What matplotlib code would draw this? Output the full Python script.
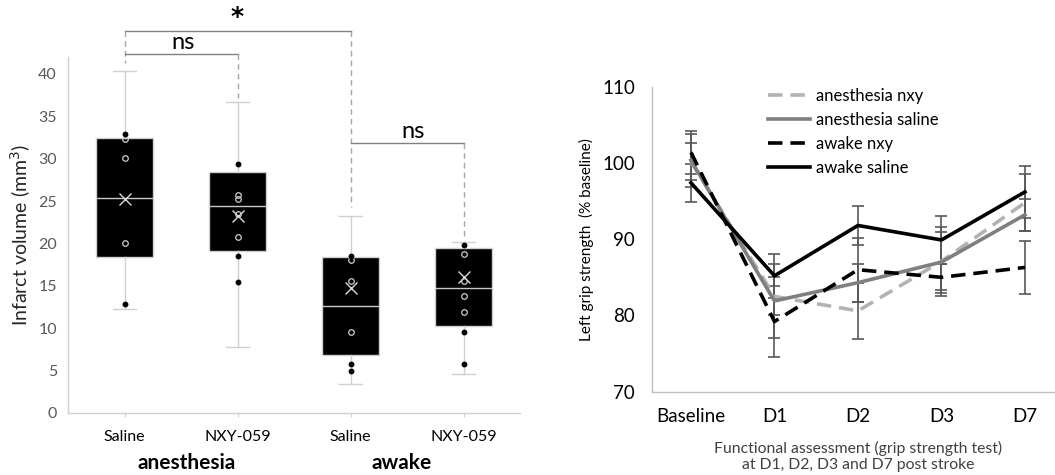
import matplotlib
matplotlib.use("Agg")
import matplotlib.pyplot as plt
import matplotlib.transforms as mtransforms

plt.rcParams["font.family"] = ["Lato", "DejaVu Sans"]

# ---------------- Left chart data ----------------
box_labels = ["Saline", "NXY-059", "Saline", "NXY-059"]
group_labels = ["anesthesia", "awake"]
box_q1 = [18.4, 19.1, 6.8, 10.3]
box_med = [25.4, 24.4, 12.6, 14.75]
box_q3 = [32.4, 28.4, 18.45, 19.5]
box_whislo = [12.3, 7.8, 3.4, 4.6]
box_whishi = [40.3, 36.7, 23.2, 20.2]
box_mean = [25.2, 23.2, 14.7, 16.0]
pts_open = [[32.3, 30.1, 20.1],
            [25.7, 25.2, 23.5, 20.8],
            [18.1, 15.6, 9.5],
            [18.7, 15.6, 13.8, 11.9]]
pts_filled = [[32.9, 12.9],
              [29.4, 18.5, 15.4],
              [18.5, 5.8, 4.9],
              [19.8, 9.6, 5.8]]
left_yticks = [0, 5, 10, 15, 20, 25, 30, 35, 40]

# ---------------- Right chart data ----------------
days = ["Baseline", "D1", "D2", "D3", "D7"]
series_names = ["anesthesia nxy", "anesthesia saline", "awake nxy", "awake saline"]
anes_nxy = [100.15, 82.5, 80.6, 87.1, 94.8]
anes_nxy_err = [2.45, 2.5, 3.7, 4.5, 3.7]
anes_saline = [100.35, 81.9, 84.3, 87.0, 93.2]
anes_saline_err = [3.45, 4.9, 2.5, 4.0, 2.1]
awake_nxy = [101.4, 79.2, 86.0, 85.0, 86.3]
awake_nxy_err = [2.8, 4.6, 4.2, 1.7, 3.5]
awake_saline = [97.4, 85.2, 91.8, 89.9, 96.2]
awake_saline_err = [2.5, 2.9, 2.5, 3.1, 3.4]
right_yticks = [70, 80, 90, 100, 110]

fig = plt.figure(figsize=(10.55, 4.75), dpi=100)

# ================= LEFT =================
axL = fig.add_axes([68/1055, 1-413/475, (520-68)/1055, (413-57)/475])
pos = list(range(len(box_labels)))
stats = []
for i in pos:
    stats.append(dict(med=box_med[i], q1=box_q1[i], q3=box_q3[i],
                      whislo=box_whislo[i], whishi=box_whishi[i],
                      mean=box_mean[i], fliers=[]))
lc = "#d0d0d0"
axL.bxp(stats, positions=pos, widths=0.5, patch_artist=True, showmeans=True,
        capwidths=0.2,
        boxprops=dict(facecolor="black", edgecolor=lc, linewidth=1.0),
        medianprops=dict(color="#c8c8c8", linewidth=1.0),
        whiskerprops=dict(color=lc, linewidth=1.0),
        capprops=dict(color=lc, linewidth=1.0),
        meanprops=dict(marker="x", markeredgecolor="#d9d9d9", markersize=8,
                       markeredgewidth=1.0, linestyle="none"))
for i in pos:
    axL.plot([i]*len(pts_open[i]), pts_open[i], linestyle="none", marker="o",
             markersize=4, markerfacecolor="none", markeredgecolor="#cfcfcf",
             markeredgewidth=0.9, zorder=5)
    axL.plot([i]*len(pts_filled[i]), pts_filled[i], linestyle="none", marker="o",
             markersize=3.2, markerfacecolor="black", markeredgecolor="black", zorder=5)

axL.set_xlim(-0.5, 3.5)
axL.set_ylim(0, 42)
axL.set_yticks(left_yticks)
axL.set_yticklabels([str(t) for t in left_yticks], color="#595959", fontsize=11.5)
axL.set_xticks(pos)
axL.set_xticklabels(box_labels, fontsize=11.5, color="black")
axL.tick_params(axis="y", length=0, pad=8)
axL.tick_params(axis="x", length=3, color=lc, pad=9)
for s in ["top", "right"]:
    axL.spines[s].set_visible(False)
for s in ["left", "bottom"]:
    axL.spines[s].set_color(lc)
    axL.spines[s].set_linewidth(1.0)
axL.set_ylabel("Infarct volume (mm$^3$)", fontsize=14, color="#262626", labelpad=4)

# group labels
for gi, g in enumerate(group_labels):
    axL.text(0.5 + 2*gi + (0.05 if gi == 0 else -0.05), -0.14, g,
             transform=mtransforms.blended_transform_factory(axL.transData, axL.transAxes),
             ha="center", va="center", fontsize=15, fontweight="bold")

# significance brackets
bc = "#808080"
dc = "#a6a6a6"
kw = dict(clip_on=False, zorder=6)
axL.plot([0, 2], [45.1, 45.1], color=bc, lw=1.0, **kw)
axL.plot([0, 0], [45.1, 41.3], color=dc, lw=1.0, ls=(0, (4, 3)), **kw)
axL.plot([2, 2], [45.1, 24.3], color=dc, lw=1.0, ls=(0, (4, 3)), **kw)
axL.text(1, 45.3, "*", ha="center", va="bottom", fontsize=18, fontweight="bold",
         family="DejaVu Sans", clip_on=False)
axL.plot([0, 1], [42.3, 42.3], color=bc, lw=1.0, **kw)
axL.plot([1, 1], [42.3, 37.2], color=dc, lw=1.0, ls=(0, (4, 3)), **kw)
axL.text(0.52, 42.5, "ns", ha="center", va="bottom", fontsize=17, clip_on=False)
axL.plot([2, 3], [31.8, 31.8], color=bc, lw=1.0, **kw)
axL.plot([3, 3], [31.8, 20.6], color=dc, lw=1.0, ls=(0, (4, 3)), **kw)
axL.text(2.55, 32.0, "ns", ha="center", va="bottom", fontsize=17, clip_on=False)

# ================= RIGHT =================
axR = fig.add_axes([651.7/1055, 1-391.7/475, 1-651.7/1055, (391.7-86.7)/475])
x = list(range(len(days)))
ec = "#595959"
series = [
    (anes_nxy, anes_nxy_err, "#b3b3b3", (0, (4, 2.2))),
    (anes_saline, anes_saline_err, "#7f7f7f", "-"),
    (awake_nxy, awake_nxy_err, "black", (0, (4, 2.2))),
    (awake_saline, awake_saline_err, "black", "-"),
]
handles = []
for (vals, errs, col, ls), name in zip(series, series_names):
    axR.errorbar(x, vals, yerr=errs, fmt="none", ecolor=ec, elinewidth=1.2,
                 capsize=4, capthick=1.2, zorder=2)
    h, = axR.plot(x, vals, color=col, lw=2.6, ls=ls, label=name, zorder=3)
    handles.append(h)

axR.set_xlim(-0.47, 4.36)
axR.set_ylim(70, 110)
axR.set_yticks(right_yticks)
axR.set_yticklabels([str(t) for t in right_yticks], fontsize=13.5)
axR.set_xticks(x)
axR.set_xticklabels(days, fontsize=13.5)
axR.tick_params(axis="both", length=0)
axR.tick_params(axis="x", pad=12)
axR.tick_params(axis="y", pad=12)
for s in ["top", "right"]:
    axR.spines[s].set_visible(False)
for s in ["left", "bottom"]:
    axR.spines[s].set_color("#bfbfbf")
    axR.spines[s].set_linewidth(1.0)
axR.set_ylabel("Left grip strength  (% baseline)", fontsize=11, labelpad=6)
axR.text(2, -0.16, "Functional assessment (grip strength test)\nat D1, D2, D3 and D7 post stroke",
         transform=mtransforms.blended_transform_factory(axR.transData, axR.transAxes),
         ha="center", va="top", fontsize=11.3, color="#404040", linespacing=1.2)
leg = axR.legend(handles=handles, loc="upper left", bbox_to_anchor=(0.288, 0.995),
                 frameon=False, fontsize=12, handlelength=2.5, handletextpad=0.4,
                 labelspacing=0.48, borderaxespad=0, borderpad=0)

fig.savefig("out.png", dpi=100)
